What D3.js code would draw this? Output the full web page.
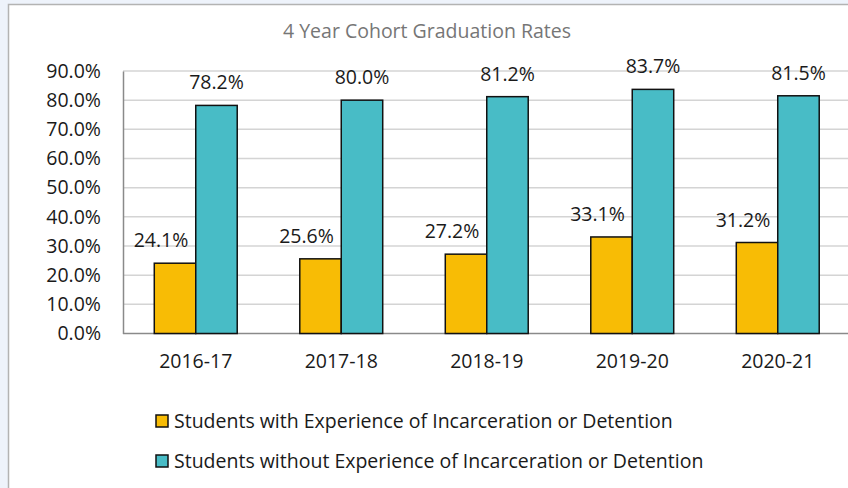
<!DOCTYPE html>
<html>
<head>
<meta charset="utf-8">
<script src="https://cdn.jsdelivr.net/npm/d3@7"></script>
<style>
  html, body { margin: 0; padding: 0; background: #eef3fb; }
  svg { display: block; font-family: "Open Sans", sans-serif; }
</style>
</head>
<body>
<svg id="chart"></svg>
<script>
const years = ["2016-17", "2017-18", "2018-19", "2019-20", "2020-21"];
const withIncarceration = [0.241, 0.256, 0.272, 0.331, 0.312];
const withoutIncarceration = [0.782, 0.800, 0.812, 0.837, 0.815];
const seriesNames = [
  "Students with Experience of Incarceration or Detention",
  "Students without Experience of Incarceration or Detention"
];
const yTicks = [0, 0.1, 0.2, 0.3, 0.4, 0.5, 0.6, 0.7, 0.8, 0.9];

const width = 848, height = 488;
const colors = ["#f8bc05", "#48bcc6"];
const fontSize = "19.5px";

let svg = d3.select("#chart")
    .attr("width", width)
    .attr("height", height);

// chart frame
svg.append("rect")
    .attr("x", 8.5).attr("y", 4.5)
    .attr("width", width + 20).attr("height", height + 20)
    .attr("fill", "#fff")
    .attr("stroke", "#b3b3b3")
    .attr("stroke-width", 1.5);

const x0 = d3.scaleBand()
    .domain(years)
    .range([123, 850.5])
    .paddingInner(0.43)
    .paddingOuter(0.215);

const x1 = d3.scaleBand()
    .domain([0, 1])
    .range([0, x0.bandwidth()]);

const y = d3.scaleLinear()
    .domain([0, 0.9])
    .range([333.5, 71]);

const fmt = d3.format(".1%");

// title
svg.append("text")
    .attr("x", 427).attr("y", 38)
    .attr("text-anchor", "middle")
    .attr("fill", "#767676")
    .style("font-size", fontSize)
    .text("4 Year Cohort Graduation Rates");

// gridlines
svg.append("g")
  .selectAll("line")
  .data(yTicks.slice(1))
  .join("line")
    .attr("x1", 123).attr("x2", width)
    .attr("y1", d => y(d)).attr("y2", d => y(d))
    .attr("stroke", "#d4d4d4")
    .attr("stroke-width", 1.5);

// y axis
const yAxis = svg.append("g")
    .attr("transform", "translate(123,0)")
    .call(d3.axisLeft(y).tickValues(yTicks).tickFormat(fmt).tickSize(0).tickPadding(22));
yAxis.select(".domain").attr("stroke", "#8a8a8a").attr("stroke-width", 1.5);
yAxis.selectAll("text")
    .attr("fill", "#1a1a1a")
    .style("font-size", fontSize)
    .style("font-family", "'Open Sans', sans-serif");

// x axis
const xAxis = svg.append("g")
    .attr("transform", "translate(0,333.5)")
    .call(d3.axisBottom(x0).tickSize(0).tickPadding(21));
xAxis.select(".domain").attr("d", "M123,0H" + width).attr("stroke", "#8a8a8a").attr("stroke-width", 1.5);
xAxis.selectAll("text")
    .attr("fill", "#1a1a1a")
    .style("font-size", fontSize)
    .style("font-family", "'Open Sans', sans-serif");

// bars
const rows = years.map((yr, i) => ({ year: yr, values: [withIncarceration[i], withoutIncarceration[i]] }));

const groups = svg.append("g")
  .selectAll("g")
  .data(rows)
  .join("g")
    .attr("transform", d => "translate(" + x0(d.year) + ",0)");

groups.selectAll("rect")
  .data(d => d.values.map((v, s) => ({ v: v, s: s })))
  .join("rect")
    .attr("x", d => x1(d.s))
    .attr("y", d => y(d.v))
    .attr("width", x1.bandwidth())
    .attr("height", d => y(0) - y(d.v))
    .attr("fill", d => colors[d.s])
    .attr("stroke", "#111")
    .attr("stroke-width", 1.5);

// value labels (yellow ones are nudged left off the teal bar)
groups.selectAll("text.val")
  .data(d => d.values.map((v, s) => ({ v: v, s: s })))
  .join("text")
    .attr("class", "val")
    .attr("x", d => x1(d.s) + x1.bandwidth() / 2 - (d.s === 0 ? 14 : 0))
    .attr("y", d => y(d.v) - 16)
    .attr("text-anchor", "middle")
    .attr("fill", "#1a1a1a")
    .style("font-size", fontSize)
    .text(d => fmt(d.v));

// legend
const legend = svg.append("g")
  .selectAll("g")
  .data(seriesNames)
  .join("g")
    .attr("transform", (d, i) => "translate(156," + (415 + i * 40) + ")");

legend.append("rect")
    .attr("width", 12).attr("height", 12)
    .attr("fill", (d, i) => colors[i])
    .attr("stroke", "#111")
    .attr("stroke-width", 1.5);

legend.append("text")
    .attr("x", 18).attr("y", 12.5)
    .attr("fill", "#1a1a1a")
    .style("font-size", fontSize)
    .text(d => d);
</script>
</body>
</html>
